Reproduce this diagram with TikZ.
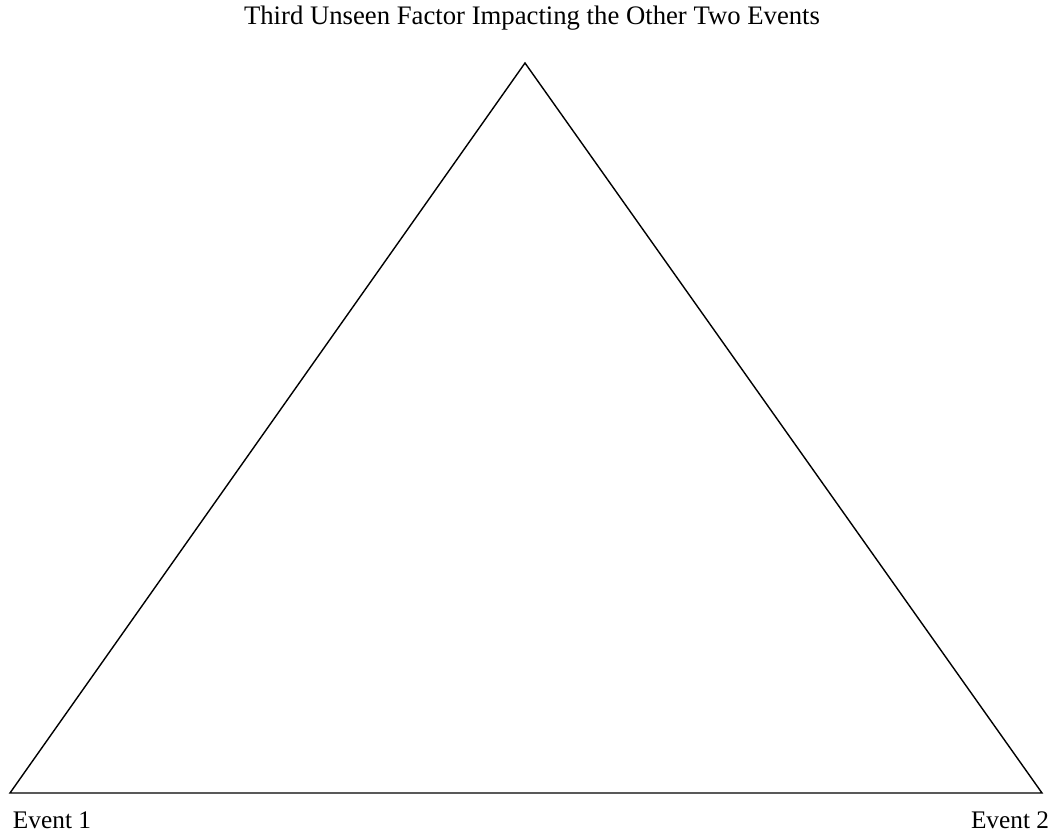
\documentclass[tikz,border=0pt]{standalone}
\usepackage{fontspec}
\setmainfont{Liberation Serif}
\usetikzlibrary{positioning}

\begin{document}
\begin{tikzpicture}[
  lbl/.style={font=\fontsize{18}{20}\selectfont, inner sep=0pt},
  side/.style={line width=1pt, line join=miter}
]
\useasboundingbox (0,0) rectangle (26.4,20.8);

\coordinate (top) at (13.125,19.225);
\coordinate (left) at (0.25,0.975);
\coordinate (right) at (26.05,0.975);

\draw[side] (top) -- (left) -- (right) -- cycle;

\node[lbl, font=\fontsize{19}{21}\selectfont] (factor) at (13.3,20.35) {Third Unseen Factor Impacting the Other Two Events};
\node[lbl] (ev1) at (1.3,0.3) {Event 1};
\node[lbl] (ev2) at (25.25,0.3) {Event 2};

\end{tikzpicture}
\end{document}
